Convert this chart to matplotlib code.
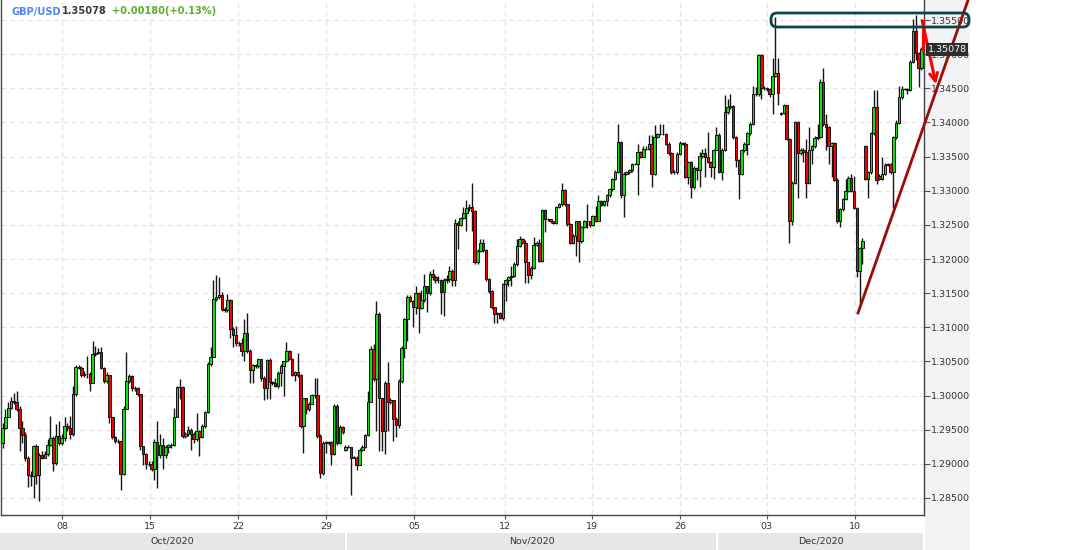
import matplotlib.pyplot as plt
from matplotlib.patches import Rectangle, FancyBboxPatch
from matplotlib.collections import PatchCollection
from matplotlib.transforms import blended_transform_factory, IdentityTransform

# GBP/USD 4h candles, 2 Oct - 15 Dec 2020
closes = [
    1.2953, 1.2968, 1.2982, 1.2992, 1.2991, 1.2980, 1.2952, 1.2942, 1.2908, 1.2883,
    1.2882, 1.2926, 1.2884, 1.2913, 1.2909, 1.2915, 1.2928, 1.2938, 1.2901, 1.2941,
    1.2931, 1.2938, 1.2955, 1.2952, 1.2943, 1.3003, 1.3042, 1.3041, 1.3030, 1.3031,
    1.3031, 1.3019, 1.3061, 1.3063, 1.3064, 1.3041, 1.3022, 1.3030, 1.2968, 1.2940,
    1.2933, 1.2933, 1.2885, 1.2981, 1.3022, 1.3029, 1.3011, 1.3011, 1.3002, 1.2926,
    1.2915, 1.2900, 1.2900, 1.2893, 1.2932, 1.2913, 1.2928, 1.2913, 1.2924, 1.2927,
    1.2927, 1.2969, 1.3012, 1.3013, 1.2941, 1.2943, 1.2949, 1.2943, 1.2936, 1.2948,
    1.2939, 1.2955, 1.2976, 1.3046, 1.3057, 1.3142, 1.3144, 1.3147, 1.3127, 1.3125,
    1.3140, 1.3098,
    1.3088, 1.3077, 1.3077, 1.3066, 1.3091, 1.3066, 1.3037, 1.3045, 1.3043, 1.3053,
    1.3026, 1.3011, 1.3052, 1.3020, 1.3018, 1.3014, 1.3033, 1.3044, 1.3050, 1.3066,
    1.3053, 1.3030, 1.3034, 1.3030, 1.2955, 1.2996, 1.2980, 1.2987, 1.3001, 1.3001,
    1.2941, 1.2887, 1.2931, 1.2931, 1.2932, 1.2915, 1.2985, 1.2931, 1.2954, 1.2946,
    1.2925, 1.2925, 1.2909, 1.2909, 1.2899, 1.2921, 1.2924, 1.2942, 1.2991, 1.3068,
    1.3024, 1.3120, 1.2996, 1.2948, 1.3019, 1.2990, 1.2993, 1.2965, 1.2957, 1.3022,
    1.3070, 1.3112, 1.3145, 1.3139, 1.3129, 1.3150, 1.3128, 1.3140, 1.3160, 1.3150,
    1.3178, 1.3173, 1.3169, 1.3169, 1.3151, 1.3169, 1.3170, 1.3183, 1.3169, 1.3253,
    1.3250, 1.3260, 1.3268, 1.3275, 1.3276, 1.3270, 1.3196, 1.3212, 1.3223, 1.3213,
    1.3170, 1.3153, 1.3129, 1.3119, 1.3121, 1.3114, 1.3163, 1.3169, 1.3173, 1.3175,
    1.3192, 1.3219, 1.3229, 1.3224, 1.3195, 1.3177, 1.3187, 1.3221, 1.3223, 1.3197,
    1.3272, 1.3258, 1.3258, 1.3256, 1.3253, 1.3276, 1.3280, 1.3301, 1.3280, 1.3251,
    1.3224, 1.3234, 1.3255, 1.3226, 1.3247, 1.3255, 1.3255, 1.3250, 1.3263, 1.3256,
    1.3285, 1.3279, 1.3285, 1.3293, 1.3302, 1.3317, 1.3328, 1.3371, 1.3293, 1.3325,
    1.3327, 1.3330, 1.3339, 1.3339, 1.3356, 1.3350, 1.3361, 1.3361, 1.3369, 1.3325,
    1.3379, 1.3383, 1.3383, 1.3383, 1.3369, 1.3355, 1.3327, 1.3327, 1.3354, 1.3370,
    1.3369, 1.3320, 1.3342, 1.3305,
    1.3334, 1.3330, 1.3351, 1.3355, 1.3350, 1.3342, 1.3335, 1.3359,
    1.3382, 1.3327, 1.3360, 1.3415, 1.3422, 1.3424, 1.3378, 1.3345, 1.3325,
    1.3359, 1.3369, 1.3384, 1.3398, 1.3441, 1.3441, 1.3499, 1.3451, 1.3450,
    1.3449, 1.3441, 1.3468, 1.3473, 1.3443, 1.3414, 1.3425, 1.3376, 1.3256,
    1.3312, 1.3400, 1.3355, 1.3360, 1.3356, 1.3312, 1.3360, 1.3365,
    1.3377, 1.3379, 1.3459, 1.3397, 1.3393, 1.3366, 1.3370,
    1.3316, 1.3255, 1.3273, 1.3288, 1.3300, 1.3319, 1.3300, 1.3275, 1.3183,
    1.3216, 1.3227, 1.3317, 1.3327, 1.3384, 1.3422, 1.3315, 1.3317, 1.3325, 1.3338,
    1.3339, 1.3327, 1.3378, 1.3399, 1.3437, 1.3449, 1.3449, 1.3448, 1.3489, 1.3534,
    1.3501, 1.3479, 1.3508,
]

highs = [
    1.2960, 1.2980, 1.2990, 1.2998, 1.3004, 1.3006, 1.2985, 1.2963, 1.2946, 1.2911,
    1.2889, 1.2928, 1.2929, 1.2916, 1.2919, 1.2919, 1.2936, 1.2970, 1.2941, 1.2958,
    1.2963, 1.2943, 1.2969, 1.2960, 1.2970, 1.3014, 1.3045, 1.3045, 1.3043, 1.3036,
    1.3058, 1.3034, 1.3080, 1.3073, 1.3070, 1.3071, 1.3042, 1.3034, 1.3030, 1.2969,
    1.2941, 1.2936, 1.2934, 1.2985, 1.3064, 1.3031, 1.3030, 1.3014, 1.3012, 1.3003,
    1.2926, 1.2916, 1.2904, 1.2904, 1.2936, 1.2963, 1.2943, 1.2938, 1.2928, 1.2929,
    1.2931, 1.2982, 1.3014, 1.3024, 1.3014, 1.2946, 1.2955, 1.2952, 1.2946, 1.2975,
    1.2950, 1.2958, 1.2977, 1.3049, 1.3071, 1.3169, 1.3176, 1.3173, 1.3151, 1.3129,
    1.3149, 1.3142,
    1.3100, 1.3102, 1.3080, 1.3085, 1.3112, 1.3121, 1.3068, 1.3046, 1.3046, 1.3055,
    1.3053, 1.3029, 1.3053, 1.3055, 1.3022, 1.3026, 1.3036, 1.3046, 1.3051, 1.3079,
    1.3067, 1.3055, 1.3036, 1.3063, 1.3031, 1.2997, 1.2997, 1.2990, 1.3002, 1.3026,
    1.3026, 1.2943, 1.2933, 1.2933, 1.2934, 1.2934, 1.2987, 1.2987, 1.2957, 1.2955,
    1.2928, 1.2927, 1.2925, 1.2911, 1.2911, 1.2923, 1.2928, 1.2943, 1.3006, 1.3073,
    1.3075, 1.3138, 1.3122, 1.2997, 1.3022, 1.3049, 1.2996, 1.2993, 1.2968, 1.3024,
    1.3072, 1.3114, 1.3148, 1.3147, 1.3140, 1.3160, 1.3151, 1.3154, 1.3178, 1.3161,
    1.3183, 1.3185, 1.3176, 1.3175, 1.3170, 1.3172, 1.3176, 1.3190, 1.3185, 1.3258,
    1.3256, 1.3262, 1.3276, 1.3286, 1.3280, 1.3312, 1.3272, 1.3214, 1.3229, 1.3229,
    1.3214, 1.3172, 1.3155, 1.3130, 1.3123, 1.3123, 1.3165, 1.3170, 1.3175, 1.3190,
    1.3195, 1.3229, 1.3234, 1.3231, 1.3228, 1.3196, 1.3190, 1.3232, 1.3226, 1.3229,
    1.3273, 1.3273, 1.3260, 1.3259, 1.3256, 1.3278, 1.3282, 1.3312, 1.3302, 1.3281,
    1.3252, 1.3236, 1.3256, 1.3256, 1.3249, 1.3257, 1.3281, 1.3256, 1.3265, 1.3278,
    1.3293, 1.3287, 1.3287, 1.3295, 1.3304, 1.3319, 1.3330, 1.3397, 1.3373, 1.3327,
    1.3329, 1.3332, 1.3341, 1.3341, 1.3368, 1.3358, 1.3366, 1.3366, 1.3381, 1.3381,
    1.3396, 1.3385, 1.3397, 1.3397, 1.3385, 1.3371, 1.3357, 1.3330, 1.3356, 1.3373,
    1.3372, 1.3371, 1.3344, 1.3344,
    1.3336, 1.3335, 1.3356, 1.3361, 1.3363, 1.3386, 1.3344, 1.3361,
    1.3393, 1.3384, 1.3362, 1.3440, 1.3435, 1.3442, 1.3426, 1.3380, 1.3347,
    1.3361, 1.3371, 1.3386, 1.3400, 1.3453, 1.3452, 1.3500, 1.3500, 1.3453,
    1.3452, 1.3450, 1.3494, 1.3555, 1.3494, 1.3415, 1.3427, 1.3426, 1.3377,
    1.3314, 1.3402, 1.3402, 1.3362, 1.3362, 1.3376, 1.3393, 1.3367,
    1.3380, 1.3398, 1.3464, 1.3479, 1.3413, 1.3395, 1.3372,
    1.3372, 1.3318, 1.3275, 1.3290, 1.3317, 1.3322, 1.3324, 1.3322, 1.3276,
    1.3218, 1.3231, 1.3367, 1.3329, 1.3386, 1.3448, 1.3448, 1.3324, 1.3349, 1.3340,
    1.3341, 1.3341, 1.3380, 1.3403, 1.3454, 1.3454, 1.3451, 1.3450, 1.3491, 1.3551,
    1.3557, 1.3503, 1.3510,
]

lows = [
    1.2923, 1.2951, 1.2968, 1.2980, 1.2987, 1.2977, 1.2919, 1.2931, 1.2904, 1.2866,
    1.2867, 1.2850, 1.2870, 1.2846, 1.2907, 1.2909, 1.2911, 1.2926, 1.2889, 1.2899,
    1.2928, 1.2928, 1.2933, 1.2948, 1.2936, 1.2941, 1.2999, 1.3039, 1.3027, 1.3027,
    1.3026, 1.3007, 1.3018, 1.3058, 1.3061, 1.3039, 1.3019, 1.3019, 1.2960, 1.2936,
    1.2931, 1.2931, 1.2862, 1.2884, 1.2980, 1.3019, 1.3007, 1.3007, 1.2999, 1.2921,
    1.2899, 1.2892, 1.2897, 1.2889, 1.2877, 1.2865, 1.2909, 1.2892, 1.2909, 1.2916,
    1.2923, 1.2926, 1.2968, 1.2995, 1.2938, 1.2938, 1.2941, 1.2921, 1.2931, 1.2933,
    1.2911, 1.2938, 1.2953, 1.2975, 1.3044, 1.3056, 1.3139, 1.3142, 1.3124, 1.3122,
    1.3123, 1.3085,
    1.3071, 1.3073, 1.3073, 1.3058, 1.3051, 1.3063, 1.3019, 1.3019, 1.3041, 1.3041,
    1.3022, 1.2993, 1.2995, 1.2995, 1.3016, 1.3013, 1.3011, 1.3014, 1.2999, 1.3049,
    1.3052, 1.3029, 1.3022, 1.3027, 1.2953, 1.2916, 1.2973, 1.2978, 1.2987, 1.2997,
    1.2938, 1.2879, 1.2884, 1.2916, 1.2928, 1.2898, 1.2913, 1.2928, 1.2929, 1.2943,
    1.2919, 1.2923, 1.2855, 1.2908, 1.2891, 1.2898, 1.2919, 1.2923, 1.2941, 1.2990,
    1.3022, 1.2948, 1.2919, 1.2919, 1.2914, 1.2948, 1.2988, 1.2933, 1.2940, 1.2953,
    1.3019, 1.3055, 1.3080, 1.3137, 1.3100, 1.3120, 1.3092, 1.3127, 1.3137, 1.3122,
    1.3148, 1.3169, 1.3165, 1.3165, 1.3120, 1.3117, 1.3165, 1.3167, 1.3160, 1.3160,
    1.3214, 1.3248, 1.3258, 1.3241, 1.3270, 1.3241, 1.3192, 1.3192, 1.3210, 1.3210,
    1.3168, 1.3150, 1.3127, 1.3107, 1.3107, 1.3112, 1.3110, 1.3138, 1.3160, 1.3160,
    1.3173, 1.3190, 1.3217, 1.3222, 1.3165, 1.3165, 1.3170, 1.3185, 1.3219, 1.3195,
    1.3195, 1.3240, 1.3256, 1.3253, 1.3251, 1.3251, 1.3274, 1.3278, 1.3278, 1.3249,
    1.3222, 1.3222, 1.3204, 1.3195, 1.3224, 1.3245, 1.3246, 1.3247, 1.3248, 1.3254,
    1.3255, 1.3277, 1.3278, 1.3278, 1.3291, 1.3300, 1.3315, 1.3326, 1.3290, 1.3262,
    1.3323, 1.3325, 1.3328, 1.3337, 1.3294, 1.3348, 1.3349, 1.3359, 1.3360, 1.3305,
    1.3323, 1.3377, 1.3381, 1.3381, 1.3367, 1.3353, 1.3325, 1.3325, 1.3325, 1.3352,
    1.3367, 1.3318, 1.3310, 1.3290,
    1.3303, 1.3315, 1.3305, 1.3348, 1.3320, 1.3340, 1.3320, 1.3317,
    1.3359, 1.3326, 1.3315, 1.3358, 1.3413, 1.3420, 1.3376, 1.3335, 1.3288,
    1.3323, 1.3357, 1.3352, 1.3382, 1.3396, 1.3438, 1.3439, 1.3435, 1.3448,
    1.3446, 1.3437, 1.3413, 1.3466, 1.3426, 1.3411, 1.3412, 1.3374, 1.3224,
    1.3250, 1.3310, 1.3290, 1.3353, 1.3342, 1.3290, 1.3310, 1.3339,
    1.3363, 1.3375, 1.3377, 1.3395, 1.3360, 1.3339, 1.3320,
    1.3314, 1.3253, 1.3247, 1.3270, 1.3286, 1.3298, 1.3298, 1.3273, 1.3173,
    1.3131, 1.3192, 1.3315, 1.3290, 1.3325, 1.3382, 1.3310, 1.3315, 1.3315, 1.3323,
    1.3336, 1.3325, 1.3275, 1.3376, 1.3397, 1.3435, 1.3447, 1.3442, 1.3446, 1.3487,
    1.3491, 1.3452, 1.3477,
]

first_open = 1.2931
# candles whose open does not sit on the previous close (price gaps)
gap_opens = {122: 1.2921, 277: 1.3412, 307: 1.3365, 312: 1.3322}

opens = [first_open] + closes[:-1]
for k, v in gap_opens.items():
    opens[k] = v

price_ticks = [1.285, 1.290, 1.295, 1.300, 1.305, 1.310, 1.315, 1.320,
               1.325, 1.330, 1.335, 1.340, 1.345, 1.350, 1.355]
day_labels = ["08", "15", "22", "29", "05", "12", "19", "26", "03", "10"]
day_pos = [21.1, 52.4, 83.75, 115.1, 146.4, 178.8, 209.7, 241.1, 272.0, 303.35]
months = ["Oct/2020", "Nov/2020", "Dec/2020"]

last_price = 1.35078
change = "+0.00180(+0.13%)"

W, H = 1091, 550
fig = plt.figure(figsize=(W / 100, H / 100), dpi=100)
ax = fig.add_axes([1 / W, 35 / H, 923 / W, 515 / H])

n = len(closes)
bw = 0.9
up_col, down_col = "#10e010", "#f00000"

ax.vlines(range(n), lows, highs, color="#151515", lw=1, zorder=2)
bodies, cols = [], []
for i in range(n):
    o, c = opens[i], closes[i]
    bot = min(o, c)
    hgt = max(abs(c - o), 0.00004)
    bodies.append(Rectangle((i - bw / 2, bot), bw, hgt))
    cols.append(up_col if c >= o else down_col)
ax.add_collection(PatchCollection(bodies, facecolors=cols, edgecolors="#151515",
                                  linewidths=0.7, zorder=3))

ax.set_xlim(-0.6, n - 1 + 0.9)
ax.set_ylim(1.28251, 1.35793)

ax.yaxis.tick_right()
ax.set_yticks(price_ticks)
ax.set_yticklabels(["%.5f" % p for p in price_ticks])
ax.set_xticks(day_pos)
ax.set_xticklabels(day_labels)
ax.tick_params(axis="y", direction="out", length=4, width=0.8, color="#555555",
               labelsize=6.8, labelcolor="#333333", pad=1)
ax.tick_params(axis="x", direction="out", length=3, width=0.8, color="#555555",
               labelsize=6.8, labelcolor="#333333", pad=2)
ax.grid(True, color="#e4e4e4", linestyle=(0, (4, 3)), linewidth=0.9, zorder=0)
ax.set_axisbelow(True)
for side in ["left", "bottom", "right"]:
    ax.spines[side].set_color("#444444")
    ax.spines[side].set_linewidth(1)
ax.spines["top"].set_visible(False)

# right price panel and month band
fig.patches.append(Rectangle((925 / W, 0), 45 / W, 1, transform=fig.transFigure,
                             fc="#f2f3f5", ec="none", zorder=-1))
month_spans = [(0, 345), (347, 716), (718, 923)]
for (x0, x1), name in zip(month_spans, months):
    fig.patches.append(Rectangle((x0 / W, 0), (x1 - x0) / W, 17 / H,
                                 transform=fig.transFigure, fc="#e6e7e9", ec="none", zorder=-1))
    fig.text((x0 + x1) / 2 / W, 8.5 / H, name, ha="center", va="center",
             fontsize=6.8, color="#333333")

# title line
fig.text(11 / W, 1 - 11.5 / H, "GBP/USD", color="#4f86f2", fontsize=7.1,
         fontweight="bold", va="center")
fig.text(62 / W, 1 - 11.5 / H, "%.5f" % last_price, color="#3a3a3a", fontsize=7.1,
         fontweight="bold", va="center")
fig.text(112 / W, 1 - 11.5 / H, change, color="#5cae2e", fontsize=7.1,
         fontweight="bold", va="center")

# last price tag on the axis
fig.patches.append(Rectangle((926 / W, 1 - 56 / H), 42 / W, 13 / H,
                             transform=fig.transFigure, fc="#2e2e2e", ec="none", zorder=2))
fig.text(947 / W, 1 - 49.5 / H, "%.5f" % last_price, color="white", fontsize=6.8,
         ha="center", va="center", zorder=3)

# hand drawn annotations
mix = blended_transform_factory(ax.transAxes, ax.transData)
ax.plot([0.9285, 1.0477], [1.3121, 1.3579], color="#9a0b0b", lw=2,
        transform=mix, clip_on=False, zorder=5)
ax.plot([0.9989, 0.9989], [1.3506, 1.3549], color="#ff0000", lw=2.2,
        transform=mix, clip_on=False, zorder=5)
ax.annotate("", xy=(1.0130, 1.3456), xytext=(0.9980, 1.3549),
            xycoords=mix, textcoords=mix,
            arrowprops=dict(arrowstyle="->", color="#ff0000", lw=2.2,
                            mutation_scale=14, shrinkA=0, shrinkB=0),
            annotation_clip=False, zorder=5)
fig.patches.append(FancyBboxPatch((771, 550 - 27), 198, 14,
                                  boxstyle="round,pad=0,rounding_size=6",
                                  transform=IdentityTransform(), fc="none",
                                  ec="#0d4444", lw=2, zorder=4))

fig.savefig("out.png", dpi=100)
